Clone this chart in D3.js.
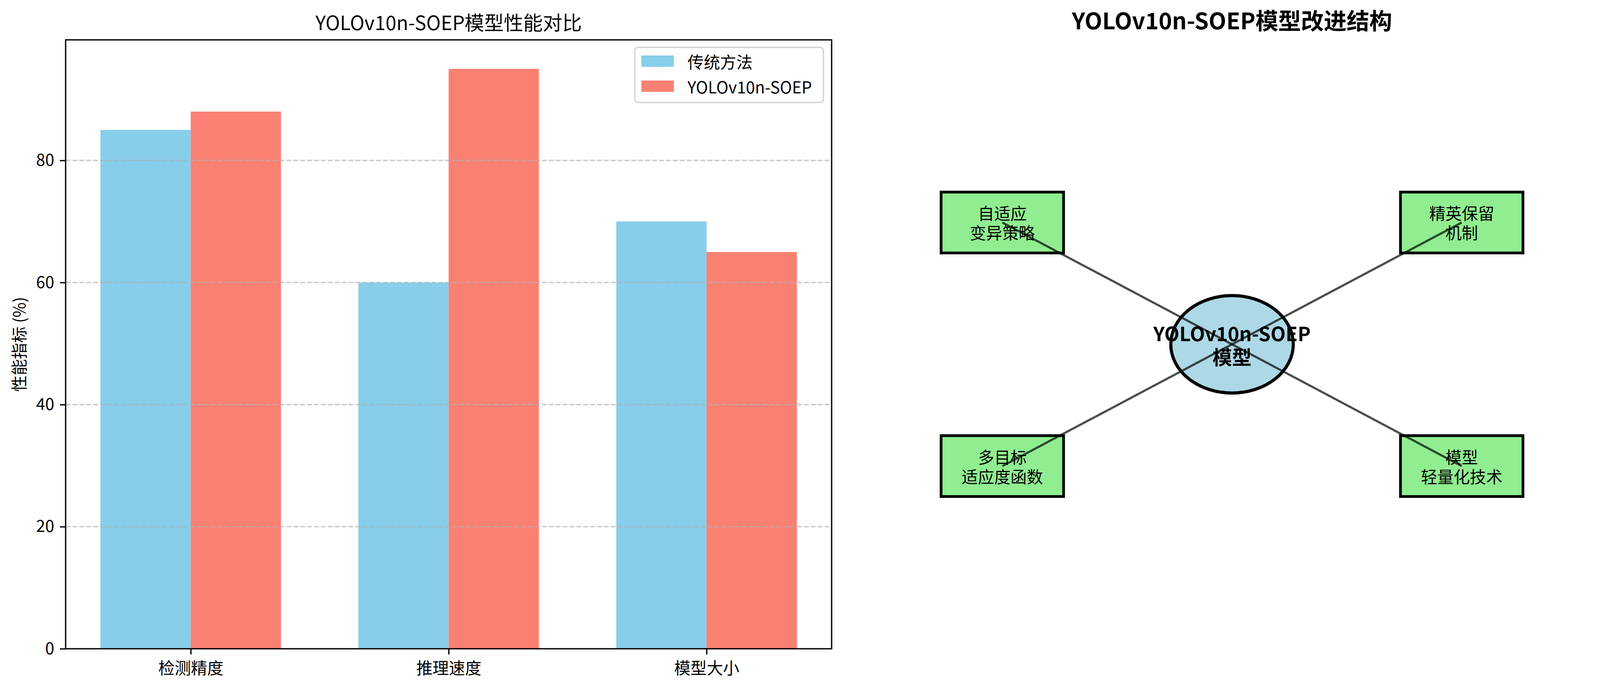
<!DOCTYPE html>
<html>
<head>
<meta charset="utf-8">
<script src="https://cdn.jsdelivr.net/npm/d3@7"></script>
<style>
  body { margin: 0; background: #fff; }
  text { font-family: "Noto Sans CJK SC", "Noto Sans", sans-serif; fill: #000; }
</style>
</head>
<body>
<div class="chart"></div>
<script>
// ---- data ----
var categories = ["检测精度", "推理速度", "模型大小"];
var seriesNames = ["传统方法", "YOLOv10n-SOEP"];
var traditional = [85, 60, 70];
var soep = [88, 95, 65];
var yTicks = [0, 20, 40, 60, 80];

var nodeLabels = [["自适应", "变异策略"], ["精英保留", "机制"], ["多目标", "适应度函数"], ["模型", "轻量化技术"]];
var nodeX = [2, 8, 2, 8];
var nodeY = [7, 7, 3, 3];
var centerLabel = ["YOLOv10n-SOEP", "模型"];

var colors = ["#87CEEB", "#FA8072"];

var W = 4165, H = 1763,
    pt = 300 / 72,
    barWidth = 0.35;

var svg = d3.select(".chart").append("svg")
    .attr("width", W)
    .attr("height", H);

// ---- left: grouped bars ----
var left = { x0: 168, x1: 2129, y0: 102, y1: 1660 };

var x = d3.scaleLinear().domain([-0.485, 2.485]).range([left.x0, left.x1]);
var y = d3.scaleLinear().domain([0, 99.75]).range([left.y1, left.y0]);

var bars = svg.append("g");
[traditional, soep].forEach(function(vals, s) {
  bars.selectAll(".bar" + s)
    .data(vals)
    .enter().append("rect")
      .attr("class", "bar" + s)
      .attr("x", function(d, i) { return x(i - barWidth + s * barWidth); })
      .attr("width", x(barWidth) - x(0))
      .attr("y", function(d) { return y(d); })
      .attr("height", function(d) { return y(0) - y(d); })
      .style("fill", colors[s]);
});

// grid sits over the bars, as in matplotlib
svg.append("g").selectAll("line")
  .data(yTicks.slice(1))
  .enter().append("line")
    .attr("x1", left.x0).attr("x2", left.x1)
    .attr("y1", function(d) { return y(d); })
    .attr("y2", function(d) { return y(d); })
    .style("stroke", "#b0b0b0")
    .style("stroke-opacity", 0.7)
    .style("stroke-width", 0.8 * pt)
    .style("stroke-dasharray", (3.7 * 0.8 * pt) + "," + (1.6 * 0.8 * pt));

var yAxis = svg.append("g")
    .attr("transform", "translate(" + left.x0 + ",0)")
    .call(d3.axisLeft(y).tickValues(yTicks).tickSize(3.5 * pt).tickPadding(3.5 * pt));

var xAxis = svg.append("g")
    .attr("transform", "translate(0," + left.y1 + ")")
    .call(d3.axisBottom(x).tickValues([0, 1, 2])
      .tickFormat(function(i) { return categories[i]; })
      .tickSize(3.5 * pt).tickPadding(3.5 * pt));

[yAxis, xAxis].forEach(function(a) {
  a.select(".domain").remove();
  a.selectAll(".tick line").style("stroke", "#000").style("stroke-width", 0.8 * pt);
  a.selectAll(".tick text")
    .style("font-size", (10 * pt) + "px")
    .style("font-family", '"Noto Sans CJK SC", sans-serif')
    .attr("fill", "#000");
});
xAxis.selectAll(".tick text").attr("dy", "0.85em");

svg.append("rect")
    .attr("x", left.x0).attr("y", left.y0)
    .attr("width", left.x1 - left.x0)
    .attr("height", left.y1 - left.y0)
    .style("fill", "none")
    .style("stroke", "#000")
    .style("stroke-width", 0.8 * pt);

svg.append("text")
    .text("YOLOv10n-SOEP模型性能对比")
    .attr("x", (left.x0 + left.x1) / 2)
    .attr("y", 77)
    .style("text-anchor", "middle")
    .style("font-size", (12 * pt) + "px");

svg.append("text")
    .text("性能指标 (%)")
    .attr("transform", "translate(47," + ((left.y0 + left.y1) / 2) + ") rotate(-90)")
    .attr("dominant-baseline", "central")
    .style("text-anchor", "middle")
    .style("font-size", (10 * pt) + "px");

// legend
var legend = svg.append("g").attr("class", "legend");
legend.append("rect")
    .attr("x", 1625).attr("y", 121)
    .attr("width", 2108 - 1625).attr("height", 262 - 121)
    .attr("rx", 9).attr("ry", 9)
    .style("fill", "#fff")
    .style("fill-opacity", 0.8)
    .style("stroke", "#d6d6d6")
    .style("stroke-width", 0.9 * pt);

var legendItem = legend.selectAll(".item")
    .data(seriesNames)
    .enter().append("g")
      .attr("class", "item")
      .attr("transform", function(d, i) { return "translate(1642," + (142 + i * 64) + ")"; });

legendItem.append("rect")
    .attr("width", 83).attr("height", 29)
    .style("fill", function(d, i) { return colors[i]; });

legendItem.append("text")
    .text(function(d) { return d; })
    .attr("x", 118)
    .attr("y", 15)
    .attr("dominant-baseline", "central")
    .style("font-size", (10 * pt) + "px");

// ---- right: structure diagram ----
var xs = d3.scaleLinear().domain([0, 10]).range([2174, 4134]);
var ys = d3.scaleLinear().domain([0, 10]).range([left.y1, left.y0]);

svg.append("text")
    .text("YOLOv10n-SOEP模型改进结构")
    .attr("x", xs(5))
    .attr("y", 75)
    .style("text-anchor", "middle")
    .style("font-weight", "bold")
    .style("font-size", (14 * pt) + "px");

var diagram = svg.append("g");

diagram.selectAll(".node")
  .data(nodeLabels)
  .enter().append("rect")
    .attr("class", "node")
    .attr("x", function(d, i) { return xs(nodeX[i] - 0.8); })
    .attr("y", function(d, i) { return ys(nodeY[i] + 0.5); })
    .attr("width", xs(1.6) - xs(0))
    .attr("height", ys(0) - ys(1))
    .style("fill", "#90EE90")
    .style("stroke", "#000")
    .style("stroke-width", 7);

diagram.append("ellipse")
    .attr("cx", xs(5)).attr("cy", ys(5))
    .attr("rx", xs(0.8) - xs(0))
    .attr("ry", ys(0) - ys(0.8))
    .style("fill", "#ADD8E6")
    .style("stroke", "#000")
    .style("stroke-width", 8);

diagram.selectAll(".link")
  .data(nodeLabels)
  .enter().append("line")
    .attr("class", "link")
    .attr("x1", xs(5)).attr("y1", ys(5))
    .attr("x2", function(d, i) { return xs(nodeX[i]); })
    .attr("y2", function(d, i) { return ys(nodeY[i]); })
    .style("stroke", "#000")
    .style("stroke-opacity", 0.7)
    .style("stroke-width", 5.5);

var nodeText = diagram.selectAll(".label")
  .data(nodeLabels)
  .enter().append("text")
    .attr("class", "label")
    .style("text-anchor", "middle")
    .style("font-size", (10 * pt) + "px");

nodeText.selectAll("tspan")
  .data(function(d, i) { return d.map(function(s, k) { return { s: s, k: k, i: i, n: d.length }; }); })
  .enter().append("tspan")
    .attr("x", function(t) { return xs(nodeX[t.i]); })
    .attr("y", function(t) { return ys(nodeY[t.i]) + (t.k - (t.n - 1) / 2) * 1.2 * 10 * pt; })
    .attr("dominant-baseline", "central")
    .text(function(t) { return t.s; });

diagram.append("text")
    .style("text-anchor", "middle")
    .style("font-weight", "bold")
    .style("font-size", (12 * pt) + "px")
  .selectAll("tspan")
  .data(centerLabel)
  .enter().append("tspan")
    .attr("x", xs(5))
    .attr("y", function(d, k) { return ys(5) + (k - 0.5) * 1.2 * 12 * pt; })
    .attr("dominant-baseline", "central")
    .text(function(d) { return d; });
</script>
</body>
</html>
